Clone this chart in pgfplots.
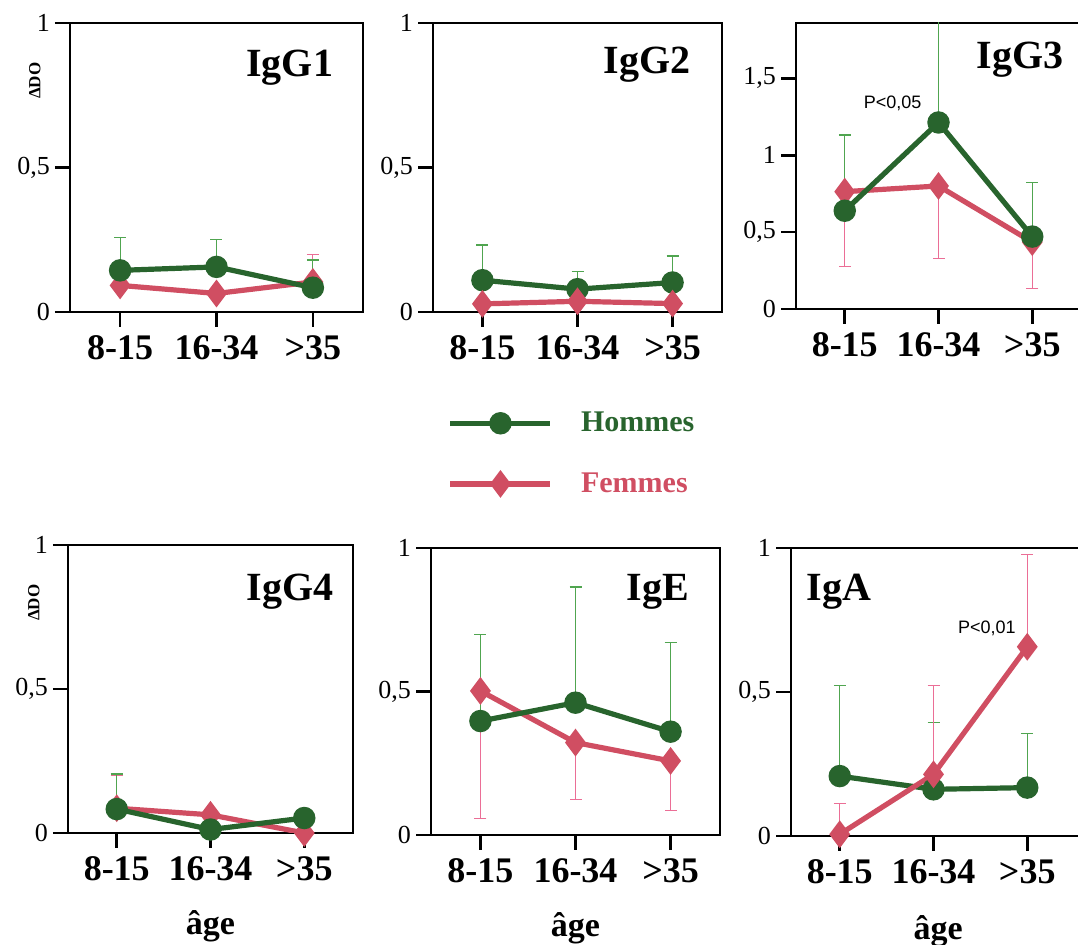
\documentclass[border=0pt]{standalone}
\usepackage{pgfplots}
\pgfplotsset{compat=1.18}
\usepackage{fontspec}
\setmainfont{Liberation Serif}
\newfontfamily\sansf{Liberation Sans}

\definecolor{hom}{RGB}{40,100,45}
\definecolor{fem}{RGB}{208,78,98}
\definecolor{homerr}{RGB}{80,165,80}
\definecolor{femerr}{RGB}{235,110,150}

\tikzset{ptitle/.style={font=\fontsize{20}{20}\selectfont\bfseries}}

\pgfplotsset{
  panel/.style={
    scale only axis,
    xmin=-0.52, xmax=2.52,
    xtick={0,1,2}, xticklabels={8-15,16-34,>35},
    ymin=0, ymax=1, ytick={0,0.5,1},
    axis line style={line width=1.3pt},
    tick style={line width=1.3pt, black},
    tick align=outside,
    xtick pos=bottom, ytick pos=left,
    major tick length=7.5pt,
    xticklabel style={font=\fontsize{18}{18}\selectfont\bfseries, yshift=-1pt},
    yticklabel style={font=\fontsize{13}{13}\selectfont, xshift=1pt},
    /pgf/number format/use comma,
    /pgf/number format/assume math mode=true,
    ylabel style={font=\fontsize{8.5}{8.5}\selectfont\bfseries, at={(axis description cs:-0.12,0.8)}, anchor=center},
    xlabel style={font=\fontsize{17}{17}\selectfont\bfseries, at={(axis description cs:0.5,-0.325)}, anchor=center},
    legend image code/.code={\draw[mark repeat=2,mark phase=2,##1] plot coordinates {(0pt,0pt) (25pt,0pt) (50pt,0pt)};},
  },
  hline/.style={color=hom, line width=2.6pt, mark=*, mark size=4.3pt, mark options={solid},
    error bars/.cd, y dir=plus, y explicit,
    error bar style={homerr, line width=0.6pt},
    error mark options={rotate=90, homerr, mark size=3pt, line width=0.6pt}},
  fline/.style={color=fem, line width=2.6pt, mark=diamond*, mark size=4.8pt, mark options={solid},
    error bars/.cd, y dir=#1, y explicit,
    error bar style={femerr, line width=0.6pt},
    error mark options={rotate=90, femerr, mark size=3pt, line width=0.6pt}},
}

\begin{document}
\begin{tikzpicture}

% IgG1
\begin{axis}[panel, at={(35pt,316.5pt)}, anchor=south west, width=146.5pt, height=144.5pt, ylabel={ΔDO}]
\addplot[fline=plus] coordinates {(0,0.092) +- (0,0) (1,0.064) +- (0,0) (2,0.104) +- (0,0.096)};
\addplot[hline] coordinates {(0,0.144) +- (0,0.113) (1,0.156) +- (0,0.094) (2,0.084) +- (0,0.096)};
\node[ptitle] at (rel axis cs:0.75,0.845) {IgG1};
\end{axis}

% IgG2
\begin{axis}[panel, at={(216.5pt,316.5pt)}, anchor=south west, width=144.5pt, height=144.5pt,
  legend style={at={(axis description cs:0.05,-0.49)}, anchor=west, draw=none, fill=none,
    font=\fontsize{15}{15}\selectfont\bfseries, row sep=15pt, column sep=12pt, inner sep=0pt},
  legend cell align=left]
\addplot[hline] coordinates {(0,0.11) +- (0,0.122) (1,0.079) +- (0,0.061) (2,0.102) +- (0,0.092)};
\addlegendentry{\textcolor{hom}{Hommes}}
\addplot[color=fem, line width=2.6pt, mark=diamond*, mark size=4.8pt] coordinates {(0,0.028) (1,0.037) (2,0.029)};
\addlegendentry{\textcolor{fem}{Femmes}}
\node[ptitle] at (rel axis cs:0.74,0.855) {IgG2};
\end{axis}

% IgG3
\begin{axis}[panel, at={(398pt,318pt)}, anchor=south west, width=150pt, height=143pt,
  ymax=1.86, ytick={0,0.5,1,1.5}, xmax=2.68]
\addplot[fline=minus] coordinates {(0,0.763) +- (0,0.489) (1,0.80) +- (0,0.472) (2,0.435) +- (0,0.30)};
\addplot[hline] coordinates {(0,0.639) +- (0,0.493) (1,1.213) +- (0,0.75) (2,0.471) +- (0,0.349)};
\node at (axis cs:1.87,1.62) [ptitle] {IgG3};
\node[font=\sansf\fontsize{9}{9}\selectfont] at (axis cs:0.51,1.34) {P<0,05};
\end{axis}

% IgG4
\begin{axis}[panel, at={(34pt,56pt)}, anchor=south west, width=142.5pt, height=144pt, ylabel={ΔDO}, xlabel={âge}]
\addplot[fline=plus] coordinates {(0,0.086) +- (0,0.114) (1,0.063) +- (0,0) (2,0.0) +- (0,0)};
\addplot[hline] coordinates {(0,0.083) +- (0,0.122) (1,0.012) +- (0,0) (2,0.052) +- (0,0)};
\node[ptitle] at (rel axis cs:0.78,0.837) {IgG4};
\end{axis}

% IgE
\begin{axis}[panel, at={(215.5pt,55pt)}, anchor=south west, width=144.5pt, height=143.5pt, xlabel={âge}]
\addplot[fline=minus] coordinates {(0,0.502) +- (0,0.444) (1,0.322) +- (0,0.199) (2,0.258) +- (0,0.173)};
\addplot[hline] coordinates {(0,0.397) +- (0,0.302) (1,0.461) +- (0,0.403) (2,0.36) +- (0,0.31)};
\node[ptitle] at (rel axis cs:0.785,0.847) {IgE};
\end{axis}

% IgA
\begin{axis}[panel, at={(395.5pt,54.5pt)}, anchor=south west, width=150pt, height=144pt, xlabel={âge},
  xmax=2.68, xlabel style={at={(axis cs:1.05,-0.33)}}]
\addplot[hline] coordinates {(0,0.208) +- (0,0.315) (1,0.162) +- (0,0.231) (2,0.168) +- (0,0.187)};
\addplot[fline=plus] coordinates {(0,0.006) +- (0,0.107) (1,0.214) +- (0,0.309) (2,0.657) +- (0,0.32)};
\node[ptitle] at (axis cs:-0.01,0.847) {IgA};
\node[font=\sansf\fontsize{9}{9}\selectfont] at (axis cs:1.57,0.722) {P<0,01};
\end{axis}

\pgfresetboundingbox
\useasboundingbox (0,0) rectangle (539pt,472.5pt);
\end{tikzpicture}
\end{document}
